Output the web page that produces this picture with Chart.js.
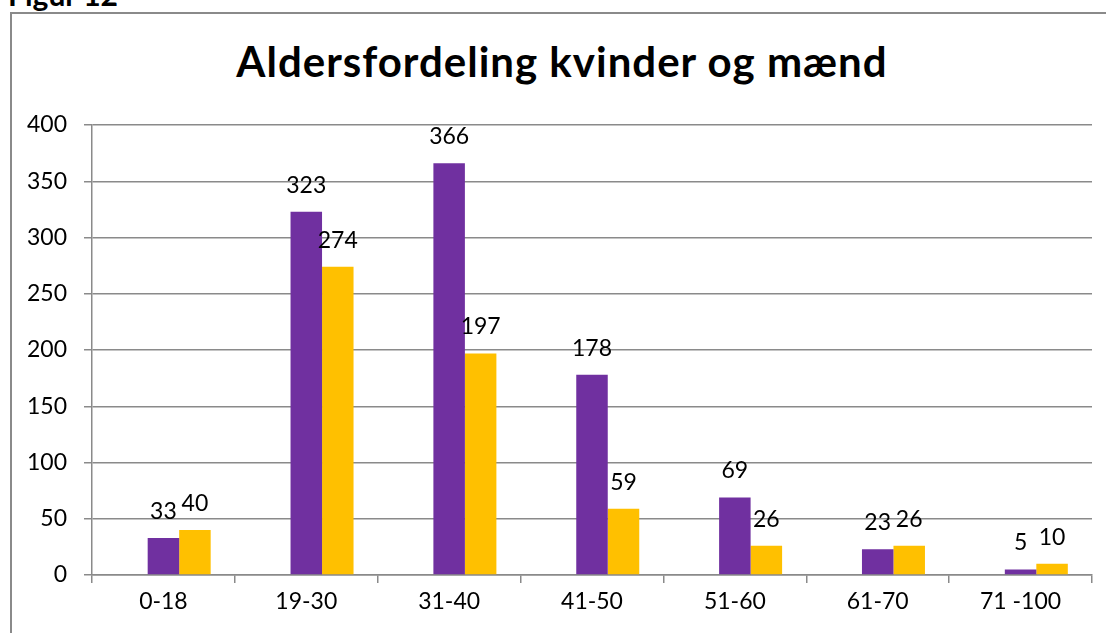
<!DOCTYPE html>
<html lang="da">
<head>
    <meta charset="UTF-8">
    <title>Figur 12</title>
    <script src="https://cdn.jsdelivr.net/npm/chart.js"></script>
    <style>
        body {
            margin: 0;
            background: #fff;
            font-family: Lato, sans-serif;
            overflow: hidden;
        }
        .figur {
            position: absolute;
            left: 8px;
            top: -21px;
            font-size: 30px;
            line-height: 30px;
            font-weight: bold;
        }
        .ramme {
            position: absolute;
            left: 10px;
            top: 12px;
            width: 1200px;
            height: 700px;
            border: 2px solid #8a8a8a;
        }
        h1 {
            position: absolute;
            left: 0;
            top: 40px;
            width: 1124px;
            margin: 0;
            text-align: center;
            font-size: 42px;
            line-height: 42px;
            letter-spacing: 1px;
            font-weight: bold;
        }
        #chart {
            position: absolute;
            left: 0;
            top: 0;
        }
    </style>
</head>
<body>
    <div class="figur">Figur 12</div>
    <div class="ramme"></div>
    <h1>Aldersfordeling kvinder og mænd</h1>
    <canvas id="chart" width="1106" height="633"></canvas>

    <script>
        // aldersgrupper og antal
        const kategorier = ['0-18', '19-30', '31-40', '41-50', '51-60', '61-70', '71 -100'];
        const tomSerie = [null, null, null, null, null, null, null]; // skjult serie, giver forskydningen
        const kvinder = [33, 323, 366, 178, 69, 23, 5];
        const maend = [40, 274, 197, 59, 26, 26, 10];
        const yTicks = [0, 50, 100, 150, 200, 250, 300, 350, 400];

        const gra = '#8a8a8a';

        // tal over søjlerne
        const dataEtiketter = {
            id: 'dataEtiketter',
            afterDatasetsDraw(chart) {
                const ctx = chart.ctx;
                ctx.save();
                ctx.font = '23px Lato';
                ctx.fillStyle = '#000';
                ctx.textAlign = 'center';
                ctx.textBaseline = 'alphabetic';
                chart.data.datasets.forEach((ds, i) => {
                    chart.getDatasetMeta(i).data.forEach((bar, j) => {
                        const v = ds.data[j];
                        if (v == null) return;
                        ctx.fillText(String(v), bar.x, bar.y - 19);
                    });
                });
                ctx.restore();
            }
        };

        new Chart(document.getElementById('chart'), {
            type: 'bar',
            data: {
                labels: kategorier,
                datasets: [
                    { label: '', data: tomSerie, backgroundColor: 'rgba(0,0,0,0)' },
                    { label: 'Kvinder', data: kvinder, backgroundColor: '#7030A0' },
                    { label: 'Mænd', data: maend, backgroundColor: '#FFC000' }
                ]
            },
            options: {
                responsive: false,
                animation: false,
                devicePixelRatio: 1,
                layout: { padding: { top: 125, left: 0, right: 14, bottom: 0 } },
                datasets: {
                    bar: { barPercentage: 1, categoryPercentage: 0.6615 }
                },
                plugins: {
                    legend: { display: false },
                    tooltip: { enabled: false },
                    title: { display: false }
                },
                scales: {
                    x: {
                        grid: {
                            display: true,
                            drawOnChartArea: false,
                            offset: true,
                            tickLength: 8,
                            color: gra,
                            lineWidth: 1.5
                        },
                        border: { color: gra, width: 1.5 },
                        ticks: {
                            color: '#000',
                            font: { family: 'Lato', size: 23 },
                            padding: 5,
                            maxRotation: 0,
                            autoSkip: false
                        },
                        afterFit(scale) { scale.height = 58; }
                    },
                    y: {
                        min: 0,
                        max: 400,
                        afterBuildTicks(scale) {
                            scale.ticks = yTicks.map(v => ({ value: v }));
                        },
                        grid: { color: gra, lineWidth: 1.5, tickLength: 8 },
                        border: { color: gra, width: 1.5 },
                        ticks: {
                            color: '#000',
                            font: { family: 'Lato', size: 23 },
                            padding: 17
                        },
                        afterFit(scale) { scale.width = 92; }
                    }
                }
            },
            plugins: [dataEtiketter]
        });
    </script>
</body>
</html>
